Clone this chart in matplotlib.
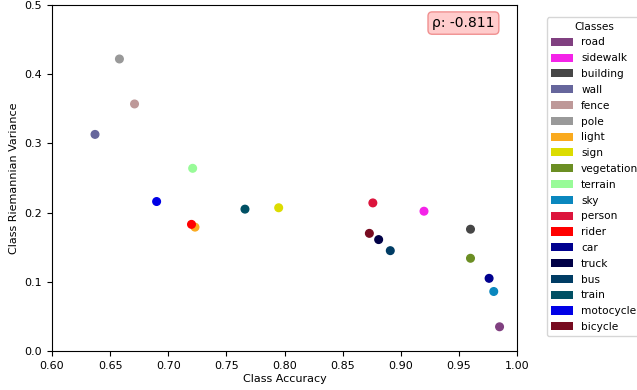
import matplotlib
matplotlib.use("Agg")
import matplotlib.pyplot as plt
from matplotlib.patches import Patch

classes = ["road", "sidewalk", "building", "wall", "fence", "pole", "light", "sign",
           "vegetation", "terrain", "sky", "person", "rider", "car", "truck", "bus",
           "train", "motocycle", "bicycle"]
accuracy = [0.985, 0.920, 0.960, 0.637, 0.671, 0.658, 0.723, 0.795,
            0.960, 0.721, 0.980, 0.876, 0.720, 0.976, 0.881, 0.891,
            0.766, 0.690, 0.873]
variance = [0.035, 0.202, 0.176, 0.313, 0.357, 0.422, 0.179, 0.207,
            0.134, 0.264, 0.086, 0.214, 0.183, 0.105, 0.161, 0.145,
            0.205, 0.216, 0.170]
colors = ["#804080", "#f423e8", "#464646", "#66669c", "#be9999", "#999999", "#faaa1e", "#dcdc00",
          "#6b8e23", "#98fb98", "#0a87be", "#dc143c", "#ff0000", "#00008e", "#000046", "#003c64",
          "#005064", "#0000e6", "#770b20"]
rho = -0.811

fig = plt.figure(figsize=(6.37, 3.90), dpi=100)
ax = fig.add_axes([52/637, 39/390, 465/637, 346/390])
ax.scatter(accuracy, variance, c=colors, s=30, zorder=3)
ax.set_xlim(0.60, 1.00)
ax.set_ylim(0.0, 0.5)
ax.set_xlabel("Class Accuracy", fontsize=8, labelpad=2)
ax.set_ylabel("Class Riemannian Variance", fontsize=8)
ax.tick_params(labelsize=8)
ax.text(0.952, 0.968, f"ρ: {rho:.3f}", transform=ax.transAxes, ha="right", va="top",
        fontsize=10, bbox=dict(boxstyle="round,pad=0.3", facecolor="#ffcccc", edgecolor="#f09090"))
handles = [Patch(facecolor=c, label=n) for c, n in zip(colors, classes)]
leg = ax.legend(handles=handles, title="Classes", loc="upper left",
                bbox_to_anchor=(1.064, 0.964), fontsize=7.6, title_fontsize=7.6,
                handlelength=2.05, handleheight=0.8, labelspacing=0.55, borderaxespad=0,
                handletextpad=0.8)
fig.savefig("out.png", dpi=100)
